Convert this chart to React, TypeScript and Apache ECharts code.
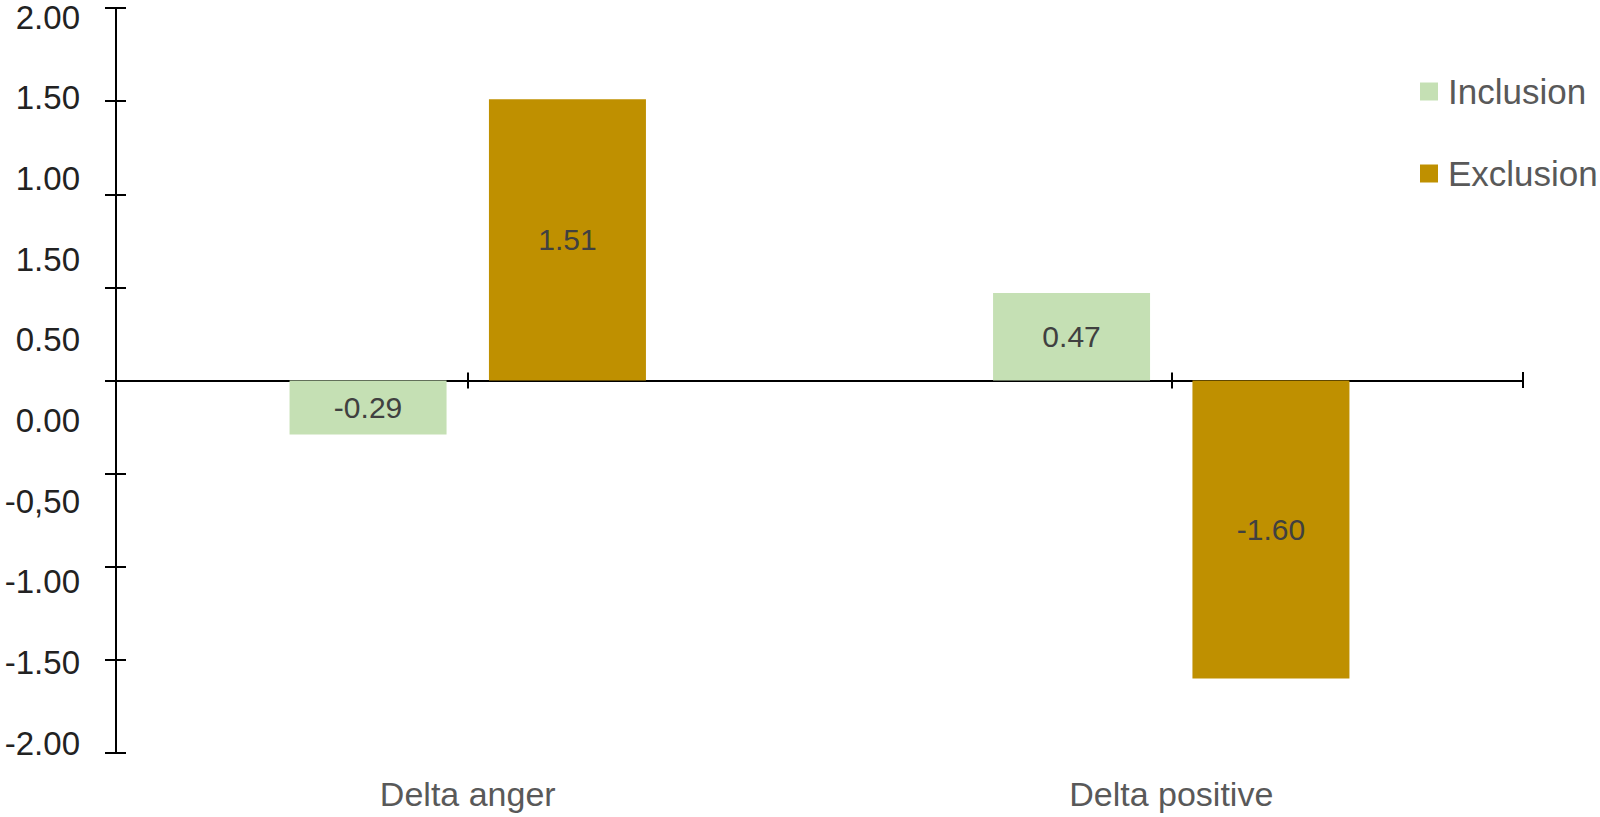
import React, { useEffect, useRef } from "react";
import * as echarts from "echarts";

const categories = ["Delta anger", "Delta positive"];
const inclusionValues = [-0.29, 0.47];
const exclusionValues = [1.51, -1.6];
const yTickLabels = ["-2.00", "-1.50", "-1.00", "-0,50", "0.00", "0.50", "1.50", "1.00", "1.50", "2.00"];
const seriesNames = ["Inclusion", "Exclusion"];

const FONT = "Liberation Sans, Arial, sans-serif";

export default function App() {
  const ref = useRef<HTMLDivElement>(null);
  useEffect(() => {
    if (!ref.current) return;
    const chart = echarts.init(ref.current, undefined, { renderer: "svg" });
    const lineStyle = { color: "#000", width: 2 };
    const valueLabel = {
      show: true,
      position: "inside",
      color: "#404040",
      fontSize: 30,
      fontFamily: FONT,
      formatter: (p: any) => Number(p.value).toFixed(2),
    };
    chart.setOption({
      animation: false,
      backgroundColor: "#fff",
      grid: [
        { left: 116, right: 77, top: 8, bottom: 64, containLabel: false },
        { left: 116, right: 77, top: 17, bottom: 74, containLabel: false },
      ],
      legend: {
        orient: "vertical",
        left: 1420,
        top: 74,
        padding: 0,
        itemWidth: 18,
        itemHeight: 18,
        itemGap: 47,
        icon: "rect",
        data: seriesNames,
        textStyle: { fontSize: 35, color: "#595959", fontFamily: FONT, lineHeight: 35, padding: [0, 0, 0, 5] },
      },
      xAxis: [
        {
          type: "category", gridIndex: 0, data: categories, position: "bottom",
          axisLine: { show: true, onZero: true, lineStyle },
          axisTick: { show: true, alignWithLabel: true, length: 8, inside: false, lineStyle },
          axisLabel: { show: false }, splitLine: { show: false },
        },
        {
          type: "category", gridIndex: 0, data: categories, position: "bottom",
          axisLine: { show: false, onZero: true },
          axisTick: { show: true, alignWithLabel: true, length: 8, inside: true, lineStyle },
          axisLabel: { show: false }, splitLine: { show: false },
        },
        {
          type: "value", gridIndex: 0, min: 0, max: 2, interval: 2, position: "bottom", offset: -373,
          axisLine: { show: false, onZero: false },
          axisTick: { show: true, length: 8, inside: false, lineStyle },
          axisLabel: { show: false }, splitLine: { show: false },
        },
        {
          type: "value", gridIndex: 0, min: 0, max: 2, interval: 2, position: "bottom", offset: -373,
          axisLine: { show: false, onZero: false },
          axisTick: { show: true, length: 8, inside: true, lineStyle },
          axisLabel: { show: false }, splitLine: { show: false },
        },
        {
          type: "category", gridIndex: 0, data: categories, position: "bottom",
          axisLine: { show: false, onZero: false },
          axisTick: { show: false },
          axisLabel: { show: true, margin: 24, fontSize: 34, color: "#595959", fontFamily: FONT },
          splitLine: { show: false },
        },
        { type: "value", gridIndex: 1, min: 0, max: 1, show: false },
      ],
      yAxis: [
        {
          type: "value", gridIndex: 0, min: -2, max: 2, interval: 0.5, position: "left",
          axisLine: { show: true, onZero: false, lineStyle },
          axisTick: { show: true, length: 11, inside: false, lineStyle },
          axisLabel: { show: false }, splitLine: { show: false },
        },
        {
          type: "value", gridIndex: 0, min: -2, max: 2, interval: 0.5, position: "left",
          axisLine: { show: false, onZero: false },
          axisTick: { show: true, length: 10, inside: true, lineStyle },
          axisLabel: { show: false }, splitLine: { show: false },
        },
        {
          type: "category", gridIndex: 1, position: "left", boundaryGap: false,
          data: yTickLabels.map((_, i) => String(i)),
          axisLine: { show: false, onZero: false },
          axisTick: { show: false },
          axisLabel: {
            show: true, margin: 36, fontSize: 33, color: "#222", fontFamily: FONT,
            interval: 0,
            formatter: (_v: string, i: number) => yTickLabels[i],
          },
          splitLine: { show: false },
        },
      ],
      series: [
        {
          name: seriesNames[0], type: "bar", xAxisIndex: 0, yAxisIndex: 0,
          data: inclusionValues, barWidth: 157, barGap: "27%",
          itemStyle: { color: "#C5E0B4" }, label: valueLabel,
        },
        {
          name: seriesNames[1], type: "bar", xAxisIndex: 0, yAxisIndex: 0,
          data: exclusionValues, barWidth: 157, barGap: "27%",
          itemStyle: { color: "#BF9000" }, label: valueLabel,
        },
      ],
    });
    return () => chart.dispose();
  }, []);
  return (
    <div
      ref={ref}
      style={{ position: "fixed", left: 0, top: 0, width: 1600, height: 817, background: "#fff" }}
    />
  );
}
